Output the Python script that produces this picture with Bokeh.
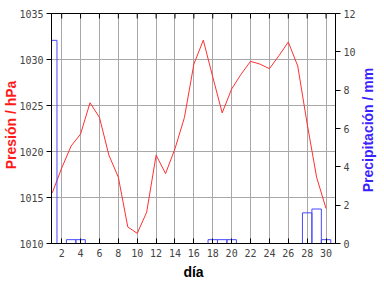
import math
from bokeh.plotting import figure
from bokeh.models import Range1d, LinearAxis, FixedTicker, Label
from bokeh.embed import file_html
from bokeh.resources import INLINE

days = list(range(1, 31))
pressure = [1015.5, 1018.2, 1020.6, 1021.9, 1025.3, 1023.7, 1019.6, 1017.2, 1011.8, 1011.1,
            1013.4, 1019.6, 1017.6, 1020.3, 1023.7, 1029.5, 1032.1, 1028.1, 1024.2, 1026.8,
            1028.4, 1029.8, 1029.5, 1029.0, 1030.4, 1031.9, 1029.3, 1023.0, 1017.2, 1013.8]
precip = [10.6, 0, 0.2, 0.2, 0, 0, 0, 0, 0, 0,
          0, 0, 0, 0, 0, 0, 0, 0.2, 0.2, 0.2,
          0, 0, 0, 0, 0, 0, 0, 1.6, 1.8, 0.2]
day_ticks = list(range(2, 31, 2))
pres_ticks = [1010, 1015, 1020, 1025, 1030, 1035]
prec_ticks = [0, 2, 4, 6, 8, 10, 12]

TICKFONT = "DejaVu Sans Mono"
LABELFONT = "Liberation Sans"

X0, X1 = 0.92, 31.0
Y0, Y1 = 1010, 1035
FRAME_L, FRAME_R, FRAME_T, FRAME_B = 49, 335, 13, 243
px_x = (FRAME_R - FRAME_L) / (X1 - X0)   # pixels per day
px_y = (FRAME_B - FRAME_T) / (Y1 - Y0)   # pixels per hPa

p = figure(width=384, height=288, output_backend="svg", toolbar_location=None,
           x_range=Range1d(X0, X1), y_range=Range1d(Y0, Y1),
           min_border_left=FRAME_L, min_border_right=384 - FRAME_R,
           min_border_top=FRAME_T, min_border_bottom=288 - FRAME_B)
p.extra_y_ranges = {"precip": Range1d(0, 12)}
p.background_fill_color = "white"
p.border_fill_color = "white"
p.outline_line_color = "black"

p.line(days, pressure, line_color="#ff3030", line_width=1)
p.vbar(x=days, top=precip, bottom=0, width=1.0, fill_color=None,
       line_color="#4848ff", line_width=1, y_range_name="precip")

# top inward tick marks
p.scatter(x=day_ticks, y=[pres_ticks[-1]] * len(day_ticks), marker="dash",
          size=10, angle=math.pi / 2, line_color="black", line_width=1)

# grids
p.xgrid.ticker = FixedTicker(ticks=day_ticks)
p.ygrid.ticker = FixedTicker(ticks=pres_ticks)
for g in (p.xgrid[0], p.ygrid[0]):
    g.grid_line_color = "#a8a8a8"
    g.grid_line_width = 1

# bottom axis
xa = p.xaxis[0]
xa.ticker = FixedTicker(ticks=day_ticks)
xa.axis_label = "día"
xa.major_tick_in = 5
xa.major_tick_out = 0
xa.minor_tick_line_color = None
xa.major_label_standoff = 5
xa.axis_label_standoff = 4
xa.major_label_text_font = TICKFONT
xa.major_label_text_font_size = "10px"
xa.axis_label_text_font = LABELFONT
xa.axis_label_text_font_size = "14px"
xa.axis_label_text_font_style = "bold"
xa.axis_label_text_color = "black"

# left axis
ya = p.yaxis[0]
ya.ticker = FixedTicker(ticks=pres_ticks)
ya.major_tick_out = 5
ya.major_tick_in = 0
ya.minor_tick_line_color = None
ya.major_label_standoff = 3
ya.major_label_text_font = TICKFONT
ya.major_label_text_font_size = "10px"

# right axis
ra = LinearAxis(y_range_name="precip", ticker=FixedTicker(ticks=prec_ticks))
ra.major_tick_out = 5
ra.major_tick_in = 0
ra.minor_tick_line_color = None
ra.major_label_standoff = 3
ra.major_label_text_font = TICKFONT
ra.major_label_text_font_size = "10px"
p.add_layout(ra, "right")

# axis titles, reading bottom-to-top, placed in the side panels
left_title = Label(x=X0 - (FRAME_L - 8) / px_x, y=Y1 - (124.5 - FRAME_T) / px_y,
                   text="Presión / hPa",
                   angle=math.pi / 2, text_align="center", text_baseline="middle",
                   text_font=LABELFONT, text_font_size="14px", text_font_style="bold",
                   text_color="#ff1a1a")
right_title = Label(x=X1 + (368 - FRAME_R) / px_x, y=Y1 - (129.5 - FRAME_T) / px_y,
                    text="Precipitación / mm",
                    angle=math.pi / 2, text_align="center", text_baseline="middle",
                    text_font=LABELFONT, text_font_size="14px", text_font_style="bold",
                    text_color="#3a22ff")
p.add_layout(left_title, "left")
p.add_layout(right_title, "right")

open("out.html", "w").write(file_html(p, INLINE))
